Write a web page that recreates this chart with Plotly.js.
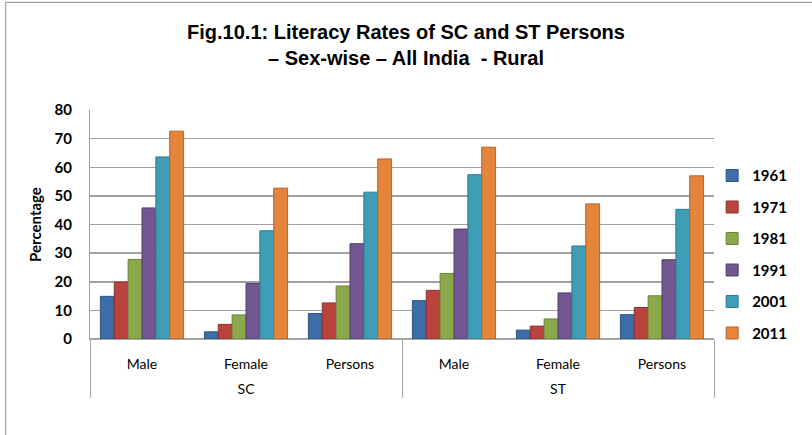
<!DOCTYPE html>
<html>
<head>
<meta charset="utf-8">
<script src="https://cdn.plot.ly/plotly-3.0.1.min.js"></script>
<style>html,body{margin:0;padding:0;background:#fff;}#chart{width:812px;height:435px;}</style>
</head>
<body>
<div id="chart"></div>
<script>
// Data
const groups = ['SC', 'SC', 'SC', 'ST', 'ST', 'ST'];
const categories = ['Male', 'Female', 'Persons', 'Male', 'Female', 'Persons'];
const years = ['1961', '1971', '1981', '1991', '2001', '2011'];
const v1961 = [14.9, 2.5, 8.9, 13.4, 3.1, 8.5];
const v1971 = [19.9, 5.1, 12.6, 17.0, 4.5, 11.0];
const v1981 = [27.8, 8.4, 18.5, 22.9, 7.0, 15.1];
const v1991 = [45.8, 19.4, 33.3, 38.4, 16.1, 27.7];
const v2001 = [63.6, 37.8, 51.3, 57.4, 32.5, 45.3];
const v2011 = [72.6, 52.7, 62.9, 67.0, 47.2, 57.0];
const yTicks = [0, 10, 20, 30, 40, 50, 60, 70, 80];

const series = [v1961, v1971, v1981, v1991, v2001, v2011];
const colors = ['#3D6EAA', '#B9443F', '#8BA94B', '#72568F', '#3F9DB6', '#E5843B'];
const edge = ['#2C5383', '#8E302C', '#6A8436', '#553F6E', '#2D7A8E', '#B5622A'];

// outer group labels drawn one line lower (Excel-style spacing)
const groupLabels = groups.map(g => '<br>' + g);

const traces = series.map((vals, i) => ({
  type: 'bar',
  name: years[i],
  legendgroup: years[i],
  x: [groupLabels, categories],
  y: vals,
  marker: {color: colors[i], line: {color: edge[i], width: 1}},
  hoverinfo: 'y'
}));

const layout = {
  width: 812,
  height: 435,
  paper_bgcolor: '#ffffff',
  plot_bgcolor: '#ffffff',
  margin: {l: 90, r: 98, t: 110, b: 96},
  barmode: 'group',
  bargap: 0.2,
  bargroupgap: 0,
  title: {
    text: '<b>Fig.10.1: Literacy Rates of SC and ST Persons<br>– Sex-wise – All India  - Rural</b>',
    font: {family: 'Liberation Sans, Arial, sans-serif', size: 20, color: '#000'},
    x: 0.5, xanchor: 'center', y: 0.91, yanchor: 'top'
  },
  xaxis: {
    type: 'multicategory',
    showline: true, linecolor: '#a6a6a6', linewidth: 1,
    showdividers: true, dividercolor: '#a6a6a6', dividerwidth: 1,
    tickfont: {family: 'Lato, Open Sans, sans-serif', size: 14, color: '#000'},
    ticklabelstandoff: 12,
    ticks: '', showgrid: false
  },
  yaxis: {
    range: [0, 80],
    tickvals: yTicks,
    ticktext: yTicks.map(String),
    showgrid: true, gridcolor: '#a0a0a0', gridwidth: 1.5,
    zeroline: true, zerolinecolor: '#a0a0a0', zerolinewidth: 1.5,
    showline: true, linecolor: '#a0a0a0', linewidth: 1,
    ticks: 'outside', ticklen: 14, tickcolor: 'rgba(0,0,0,0)',
    automargin: true,
    tickfont: {family: 'Lato, Open Sans, sans-serif', size: 15, color: '#000', weight: 'bold'},
    title: {text: '<b>Percentage</b>', font: {family: 'Lato, Open Sans, sans-serif', size: 15, color: '#000'}, standoff: 9}
  },
  legend: {
    x: 0.997, xanchor: 'left', y: 0.785, yanchor: 'top',
    font: {family: 'Lato, Open Sans, sans-serif', size: 15, color: '#000', weight: 'bold'},
    tracegroupgap: 9,
    itemwidth: 30,
    bgcolor: 'rgba(0,0,0,0)'
  },
  shapes: [
    {type: 'rect', xref: 'paper', yref: 'paper', x0: -0.135, x1: 1.2, y0: -0.5, y1: 1.47,
     line: {color: '#8c8c8c', width: 1}, fillcolor: 'rgba(0,0,0,0)', layer: 'below'}
  ],
  showlegend: true
};

Plotly.newPlot('chart', traces, layout, {displayModeBar: false, staticPlot: true});
</script>
</body>
</html>
